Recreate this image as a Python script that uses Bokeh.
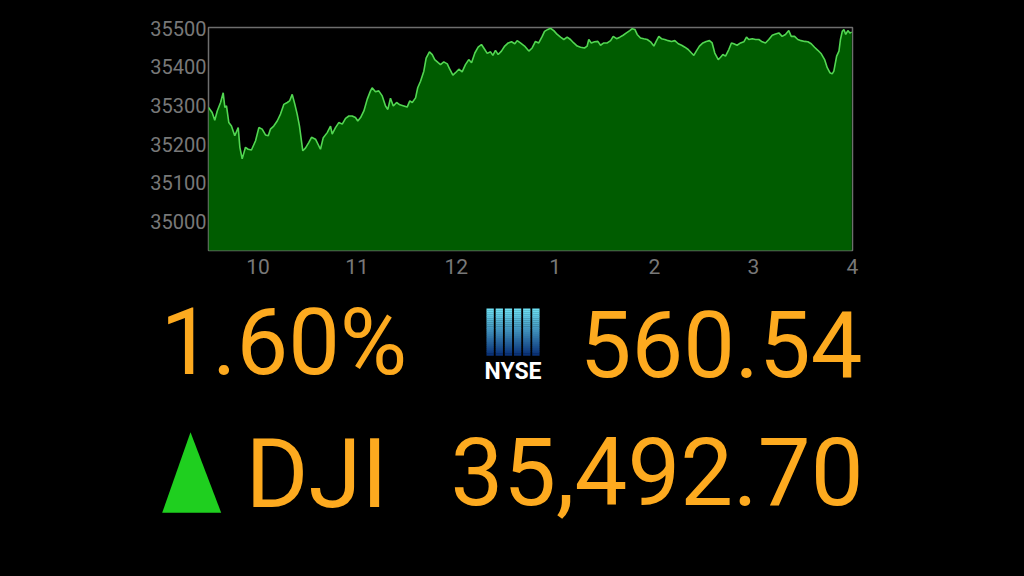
from bokeh.plotting import figure
from bokeh.layouts import column
from bokeh.models import Range1d, FixedTicker
from bokeh.core.properties import value
from bokeh.embed import file_html
from bokeh.resources import INLINE
import numpy as np

# ---------------- data ----------------
minutes_after_open = [
    0, 2.2, 3.8, 5.3, 7.3, 8.9, 9.9, 10.9, 12.3, 13.9,
    15.9, 18.0, 19.0, 20.4, 22.4, 24.0, 26.0, 28.5, 30.5, 32.5,
    34.5, 36.2, 37.5, 39.5, 41.6, 43.6, 45.6, 47.7, 49.1, 50.7,
    52.3, 53.7, 55.1, 57.1, 58.7, 60.7, 62.4, 64.8, 67.8, 69.5,
    71.9, 73.9, 74.9, 76.9, 78.9, 81.0, 83.0, 85.0, 87.0, 89.0,
    90.4, 92.1, 94.1, 96.1, 98.1, 99.1, 101.1, 103.1, 105.2, 107.2,
    108.6, 110.2, 111.9, 113.9, 115.9, 118.3, 120.3, 121.9, 123.4, 125.4,
    126.7, 128.4, 130.4, 131.8, 133.8, 135.5, 137.0, 139.1, 140.5, 142.5,
    144.6, 146.1, 148.0, 149.6, 151.6, 153.6, 155.6, 157.6, 159.3, 161.3,
    163.3, 165.3, 166.7, 168.8, 170.8, 172.2, 173.8, 175.4, 177.4, 179.4,
    181.5, 183.5, 185.5, 186.9, 188.9, 191.4, 194.0, 196.0, 198.0, 200.0,
    202.1, 203.5, 205.5, 207.1, 209.1, 211.2, 213.2, 215.2, 217.2, 219.2,
    221.2, 223.3, 225.3, 227.7, 229.3, 230.3, 231.8, 233.8, 235.8, 237.4,
    239.4, 241.5, 243.5, 245.1, 247.1, 249.1, 251.1, 253.1, 255.1, 256.6,
    258.2, 259.6, 261.6, 263.6, 265.7, 267.7, 269.7, 271.1, 272.7, 274.3,
    276.3, 278.4, 280.4, 282.4, 284.5, 286.5, 288.5, 290.5, 292.5, 293.9,
    295.4, 297.3, 299.4, 301.4, 303.4, 305.0, 306.6, 308.7, 310.1, 311.5,
    313.1, 315.1, 316.7, 318.1, 320.1, 322.2, 324.2, 325.8, 327.2, 329.3,
    331.3, 333.3, 335.3, 337.3, 339.3, 341.4, 343.4, 345.4, 347.4, 349.4,
    351.4, 352.9, 354.9, 356.9, 358.9, 361.0, 363.0, 365.0, 367.0, 369.0,
    371.1, 373.1, 374.7, 376.3, 377.7, 378.7, 380.4, 381.8, 382.7, 383.8,
    384.8, 385.9, 387.2, 388.4, 389.5,
]
dji = [
    35295, 35282, 35262, 35286, 35308, 35333, 35295, 35299, 35256, 35247,
    35222, 35243, 35192, 35162, 35192, 35187, 35185, 35209, 35243, 35239,
    35224, 35222, 35239, 35247, 35260, 35278, 35303, 35308, 35312, 35329,
    35303, 35278, 35247, 35183, 35190, 35204, 35218, 35213, 35187, 35217,
    35230, 35247, 35226, 35243, 35256, 35252, 35267, 35273, 35273, 35269,
    35260, 35269, 35286, 35316, 35338, 35346, 35336, 35338, 35325, 35299,
    35290, 35319, 35299, 35308, 35302, 35299, 35296, 35312, 35308, 35320,
    35346, 35363, 35389, 35423, 35439, 35432, 35419, 35411, 35406, 35413,
    35408, 35394, 35379, 35385, 35394, 35387, 35406, 35419, 35411, 35436,
    35451, 35458, 35449, 35435, 35439, 35430, 35443, 35432, 35441, 35454,
    35462, 35465, 35460, 35468, 35462, 35454, 35441, 35449, 35466, 35462,
    35479, 35492, 35497, 35500, 35494, 35484, 35477, 35471, 35477, 35471,
    35462, 35454, 35451, 35449, 35454, 35471, 35462, 35465, 35466, 35456,
    35462, 35462, 35468, 35479, 35473, 35477, 35482, 35488, 35494, 35499,
    35497, 35484, 35475, 35473, 35471, 35465, 35454, 35466, 35479, 35473,
    35471, 35468, 35466, 35468, 35460, 35456, 35451, 35445, 35436, 35430,
    35441, 35454, 35462, 35466, 35468, 35462, 35436, 35419, 35425, 35432,
    35428, 35445, 35462, 35460, 35456, 35462, 35465, 35477, 35471, 35473,
    35471, 35471, 35465, 35462, 35471, 35482, 35485, 35488, 35479, 35484,
    35494, 35479, 35479, 35471, 35468, 35466, 35465, 35460, 35451, 35443,
    35434, 35419, 35398, 35385, 35382, 35389, 35428, 35441, 35471, 35492,
    35497, 35484, 35494, 35488, 35490,
]
x_ticks = [10, 11, 12, 13, 14, 15, 16]
x_tick_labels = ["10", "11", "12", "1", "2", "3", "4"]
y_ticks = [35000, 35100, 35200, 35300, 35400, 35500]

pct_change = "1.60%"
point_change = "560.54"
index_name = "DJI"
index_close = "35,492.70"
exchange = "NYSE"

# ---------------- styling ----------------
FONT = "Roboto"
ORANGE = "#FDAA1F"
GRAY = "#787878"

hours = [9.5 + m / 60.0 for m in minutes_after_open]

p = figure(width=1024, height=288, output_backend="svg", toolbar_location=None,
           x_range=Range1d(9.5, 16), y_range=Range1d(34925, 35502),
           min_border_left=208, min_border_right=172, min_border_top=27,
           min_border_bottom=38, background_fill_color="black",
           border_fill_color="black")
p.frame_align = False
p.varea(x=hours, y1=34900, y2=dji, fill_color="#005c00")
p.line(hours, dji, line_color="#52d652", line_width=1.6)

p.outline_line_color = "#6e6e6e"
p.outline_line_width = 1.5
p.xgrid.visible = False
p.ygrid.visible = False

for ax in (p.xaxis[0], p.yaxis[0]):
    ax.axis_line_color = None
    ax.major_tick_line_color = None
    ax.minor_tick_line_color = None
    ax.major_label_text_color = GRAY
    ax.major_label_text_font = FONT

p.xaxis.ticker = FixedTicker(ticks=x_ticks)
p.xaxis.major_label_overrides = dict(zip(x_ticks, x_tick_labels))
p.xaxis.major_label_text_font_size = "21px"
p.xaxis.major_label_standoff = 2

p.yaxis.ticker = FixedTicker(ticks=y_ticks)
p.yaxis.major_label_text_font_size = "20px"
p.yaxis.major_label_standoff = -4

# ---------------- lower panel (canvas y = page y - 288) ----------------
q = figure(width=1024, height=288, output_backend="svg", toolbar_location=None,
           x_range=Range1d(0, 1024), y_range=Range1d(288, 0),
           x_axis_type=None, y_axis_type=None, min_border=0,
           background_fill_color="black", border_fill_color="black")
q.frame_align = False
q.outline_line_color = None
q.xgrid.visible = False
q.ygrid.visible = False

q.text(x=[160], y=[54], text=[pct_change], text_color=ORANGE,
       text_font=value(FONT), text_font_size="92px",
       text_align="left", text_baseline="alphabetic")
q.text(x=[862], y=[54.5], text=[point_change], text_color=ORANGE,
       text_font=value(FONT), text_font_size="92px",
       text_align="right", text_baseline="alphabetic")
q.text(x=[245], y=[185], text=[index_name], text_color=ORANGE,
       text_font=value(FONT), text_font_size="96px",
       text_align="left", text_baseline="alphabetic")
q.text(x=[863], y=[182.5], text=[index_close], text_color=ORANGE,
       text_font=value(FONT), text_font_size="94px",
       text_align="right", text_baseline="alphabetic")

# up triangle
q.patch(x=[161.7, 220.7, 190.0], y=[224.3, 224.3, 143.7],
        fill_color="#1fcf1f", line_color=None)

# NYSE logo: gradient bars
n_slices = 24
top_c = np.array([110, 225, 245])
bot_c = np.array([10, 50, 120])
bar_left = 486.0
bar_w = 7.3
bar_pitch = 9.15
y0, y1 = 20.0, 67.0
for b in range(6):
    l = bar_left + b * bar_pitch
    for s in range(n_slices):
        t = s / (n_slices - 1)
        c = (top_c * (1 - t) + bot_c * t).astype(int)
        col = "#%02x%02x%02x" % tuple(c)
        ya = y0 + (y1 - y0) * s / n_slices
        yb = y0 + (y1 - y0) * (s + 1) / n_slices + 0.3
        q.quad(left=[l], right=[l + bar_w], top=[ya], bottom=[yb],
               fill_color=col, line_color=None)
q.text(x=[512.5], y=[83], text=[exchange], text_color="white",
       text_font=value(FONT), text_font_size="23px",
       text_font_style="bold", text_align="center", text_baseline="alphabetic")

layout = column(p, q, spacing=0)
html = file_html(layout, INLINE)
html = html.replace("<body>", '<body style="background-color:#000000;">')
open("out.html", "w").write(html)
